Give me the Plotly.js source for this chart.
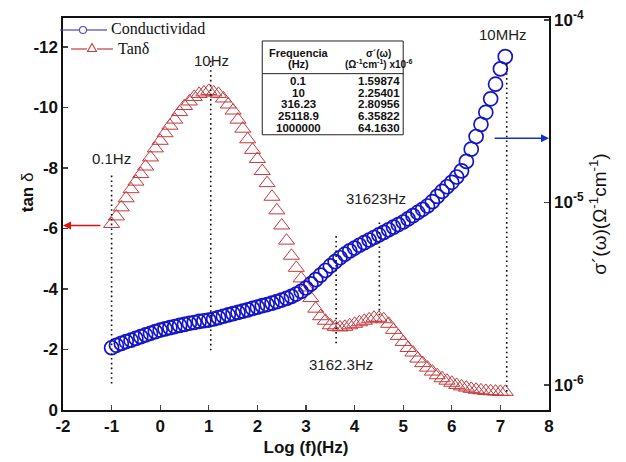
<!DOCTYPE html>
<html>
<head>
<meta charset="utf-8">
<script src="https://cdn.plot.ly/plotly-3.0.1.min.js"></script>
<style>html,body{margin:0;padding:0;background:#fff;}#chart{width:626px;height:462px;}</style>
</head>
<body>
<div id="chart"></div>
<script>
// log10 of frequency (Hz)
const logF = [-1.0,-0.9,-0.8,-0.7,-0.6,-0.5,-0.4,-0.3,-0.2,-0.1,
  0.0,0.1,0.2,0.3,0.4,0.5,0.6,0.7,0.8,0.9,
  1.0,1.1,1.2,1.3,1.4,1.5,1.6,1.7,1.8,1.9,
  2.0,2.1,2.2,2.3,2.4,2.5,2.6,2.7,2.8,2.9,
  3.0,3.1,3.2,3.3,3.4,3.5,3.6,3.7,3.8,3.9,
  4.0,4.1,4.2,4.3,4.4,4.5,4.6,4.7,4.8,4.9,
  5.0,5.1,5.2,5.3,5.4,5.5,5.6,5.7,5.8,5.9,
  6.0,6.1,6.2,6.3,6.4,6.5,6.6,6.7,6.8,6.9,
  7.0,7.1];

// Conductividad sigma'(w) (ohm^-1 cm^-1)
const conductividad = [1.60e-6,1.65e-6,1.69e-6,1.73e-6,1.76e-6,1.80e-6,1.84e-6,1.88e-6,1.92e-6,1.96e-6,
  2.00e-6,2.03e-6,2.06e-6,2.09e-6,2.12e-6,2.15e-6,2.18e-6,2.20e-6,2.23e-6,2.25e-6,
  2.27e-6,2.30e-6,2.34e-6,2.38e-6,2.42e-6,2.46e-6,2.50e-6,2.54e-6,2.58e-6,2.63e-6,
  2.67e-6,2.72e-6,2.76e-6,2.81e-6,2.86e-6,2.92e-6,2.98e-6,3.06e-6,3.15e-6,3.26e-6,
  3.40e-6,3.58e-6,3.78e-6,4.00e-6,4.24e-6,4.49e-6,4.74e-6,4.98e-6,5.21e-6,5.43e-6,
  5.63e-6,5.83e-6,6.03e-6,6.23e-6,6.43e-6,6.64e-6,6.86e-6,7.09e-6,7.33e-6,7.57e-6,
  7.82e-6,8.13e-6,8.47e-6,8.82e-6,9.18e-6,9.57e-6,1.01e-5,1.08e-5,1.15e-5,1.22e-5,
  1.29e-5,1.38e-5,1.49e-5,1.68e-5,1.96e-5,2.30e-5,2.68e-5,3.12e-5,3.70e-5,4.45e-5,
  5.40e-5,6.30e-5];

// tan delta
const tanDelta = [-6.15,-6.4,-6.7,-7.0,-7.3,-7.55,-7.8,-8.05,-8.35,-8.65,
  -8.9,-9.15,-9.4,-9.6,-9.85,-10.05,-10.2,-10.35,-10.45,-10.5,
  -10.55,-10.5,-10.45,-10.3,-10.1,-9.9,-9.6,-9.3,-8.95,-8.6,
  -8.3,-7.9,-7.5,-7.05,-6.6,-6.1,-5.6,-5.1,-4.7,-4.35,
  -4.05,-3.7,-3.35,-3.1,-2.95,-2.8,-2.75,-2.73,-2.75,-2.8,
  -2.85,-2.9,-2.95,-3.0,-3.05,-3.05,-3.0,-2.85,-2.65,-2.45,
  -2.25,-2.05,-1.9,-1.7,-1.55,-1.4,-1.27,-1.15,-1.05,-0.97,
  -0.9,-0.83,-0.78,-0.74,-0.7,-0.67,-0.65,-0.63,-0.62,-0.61,
  -0.6,-0.6];

// axis ticks
const xTicks = [-2,-1,0,1,2,3,4,5,6,7,8];
const yTicks = [0,-2,-4,-6,-8,-10,-12];
const y2Ticks = [1e-6, 1e-5, 1e-4];
const y2TickText = ['10<sup>-6</sup>', '10<sup>-5</sup>', '10<sup>-4</sup>'];

// marked frequencies (log10 f) and labels
const markLogF   = [-1.0, 1.04, 3.62, 4.51, 7.13];
const markTop    = [-7.75, -11.55, -5.75, -6.2, -11.45];
const markBottom = [-0.85, -1.9, -2.15, -3.1, -0.6];
const markLabels = ['0.1Hz', '10Hz', '3162.3Hz', '31623Hz', '10MHz'];
const labelX     = [-1.0, 1.05, 3.72, 4.45, 7.05];
const labelY     = [-8.3, -11.55, -1.5, -7.0, -12.42];

// legend entries
const legendNames = ['Conductividad', 'Tanδ'];

// table
const tableHeadFreq  = ['Frequencia', '(Hz)'];
const tableHeadSigma = ['σ´(ω)', '(Ω<sup>-1</sup>cm<sup>-1</sup>) x10<sup>-6</sup>'];
const tableFreq  = ['0.1', '10', '316.23', '25118.9', '1000000'];
const tableSigma = ['1.59874', '2.25401', '2.80956', '6.35822', '64.1630'];

const blue = '#1414c8';
const red = '#c23a3e';
const legBlue = '#4a4ac0';
const sans = 'Liberation Sans, Arial, sans-serif';
const serif = 'Liberation Serif, Times New Roman, serif';
const bold = s => '<b>' + s + '</b>';

const traces = [
  {x: logF, y: tanDelta, type: 'scatter', mode: 'markers', yaxis: 'y', name: legendNames[1], showlegend: false,
   marker: {symbol: 'triangle-up-open', size: 14, color: red, line: {width: 1, color: red}}},
  {x: logF, y: conductividad, type: 'scatter', mode: 'markers', yaxis: 'y2', name: legendNames[0], showlegend: false,
   marker: {symbol: 'circle-open', size: 14, color: blue, line: {width: 1.7, color: blue}}}
];

// plot-area geometry used for the hand-drawn legend (pixels -> paper)
const PL = 63, PW = 486, PB = 410, PH = 392;
const px = v => (v - PL) / PW;
const py = v => (PB - v) / PH;

const shapes = [];
const annotations = [];
for (let i = 0; i < markLogF.length; i++) {
  shapes.push({type: 'line', xref: 'x', yref: 'y', x0: markLogF[i], x1: markLogF[i], y0: markTop[i], y1: markBottom[i],
    line: {color: '#111', width: 1.6, dash: '1.6px,3.2px'}});
  annotations.push({xref: 'x', yref: 'y', x: labelX[i], y: labelY[i], text: markLabels[i], showarrow: false,
    font: {family: sans, size: 15, color: '#222'}});
}

// legend (drawn by hand to keep the compact spacing of the original)
shapes.push({type: 'line', xref: 'paper', yref: 'paper', x0: px(60), x1: px(79), y0: py(30), y1: py(30), line: {color: legBlue, width: 1.2}});
shapes.push({type: 'line', xref: 'paper', yref: 'paper', x0: px(87), x1: px(107), y0: py(30), y1: py(30), line: {color: legBlue, width: 1.2}});
shapes.push({type: 'circle', xref: 'paper', yref: 'paper', x0: px(79.5), x1: px(86.5), y0: py(26.5), y1: py(33.5), line: {color: legBlue, width: 1.1}});
shapes.push({type: 'line', xref: 'paper', yref: 'paper', x0: px(71), x1: px(87), y0: py(49), y1: py(49), line: {color: red, width: 1.2}});
shapes.push({type: 'line', xref: 'paper', yref: 'paper', x0: px(97), x1: px(113), y0: py(49), y1: py(49), line: {color: red, width: 1.2}});
shapes.push({type: 'path', xref: 'paper', yref: 'paper',
  path: 'M' + px(87.5) + ',' + py(51.5) + ' L' + px(96.5) + ',' + py(51.5) + ' L' + px(92) + ',' + py(43.5) + ' Z',
  line: {color: red, width: 1.1}});
annotations.push({xref: 'paper', yref: 'paper', x: px(109), y: py(29), xanchor: 'left', yanchor: 'middle',
  text: legendNames[0], showarrow: false, font: {family: serif, size: 16, color: '#111'}});
annotations.push({xref: 'paper', yref: 'paper', x: px(116), y: py(48), xanchor: 'left', yanchor: 'middle',
  text: legendNames[1], showarrow: false, font: {family: serif, size: 16, color: '#111'}});

// table frame
shapes.push({type: 'rect', xref: 'x', yref: 'y', x0: 2.1, x1: 5.0, y0: -12.2, y1: -9.1, line: {color: '#222', width: 1}});
shapes.push({type: 'line', xref: 'x', yref: 'y', x0: 2.1, x1: 5.0, y0: -11.12, y1: -11.12, line: {color: '#222', width: 1}});
const headY = [-11.8, -11.43];
const rowY = [-10.87, -10.49, -10.11, -9.72, -9.33];
for (let i = 0; i < 2; i++) {
  annotations.push({xref: 'x', yref: 'y', x: 2.85, y: headY[i], text: bold(tableHeadFreq[i]), showarrow: false,
    font: {family: sans, size: 11, color: '#111'}});
  annotations.push({xref: 'x', yref: 'y', x: 4.5, y: headY[i], text: bold(tableHeadSigma[i]), showarrow: false,
    font: {family: sans, size: 10, color: '#111'}});
}
for (let i = 0; i < tableFreq.length; i++) {
  annotations.push({xref: 'x', yref: 'y', x: 2.85, y: rowY[i], text: bold(tableFreq[i]), showarrow: false,
    font: {family: sans, size: 11.5, color: '#111'}});
  annotations.push({xref: 'x', yref: 'y', x: 4.5, y: rowY[i], text: bold(tableSigma[i]), showarrow: false,
    font: {family: sans, size: 11.5, color: '#111'}});
}
// left axis title placed as in the reference
annotations.push({xref: 'paper', yref: 'y', x: -0.074, y: -7.2, xanchor: 'center', yanchor: 'middle',
  text: '<b>tan</b> δ', textangle: -90, showarrow: false, font: {family: sans, size: 17, color: '#111'}});
// axis arrows
annotations.push({xref: 'x', yref: 'y', axref: 'x', ayref: 'y', x: -2, y: -6.1, ax: -1.2, ay: -6.1,
  showarrow: true, arrowhead: 2, arrowsize: 1, arrowwidth: 1.6, arrowcolor: '#e01010', text: ''});
annotations.push({xref: 'x', yref: 'y2', axref: 'x', ayref: 'y2', x: 8, y: Math.log10(2.25e-5), ax: 6.85, ay: Math.log10(2.25e-5),
  showarrow: true, arrowhead: 2, arrowsize: 1, arrowwidth: 1.6, arrowcolor: '#1030d0', text: ''});

const axisCommon = {showgrid: false, zeroline: false, ticks: 'inside', ticklen: 5, tickwidth: 1.3,
  linecolor: '#111', linewidth: 1.6, showline: true,
  tickfont: {family: sans, size: 17, weight: 'bold', color: '#111'}};

const layout = {
  width: 626, height: 462,
  margin: {l: 63, r: 77, t: 18, b: 52, pad: 0},
  paper_bgcolor: '#fff', plot_bgcolor: '#fff',
  font: {family: sans, color: '#111'},
  showlegend: false,
  xaxis: Object.assign({}, axisCommon, {range: [-2, 8], mirror: true,
    tickvals: xTicks, ticktext: xTicks.map(v => bold(String(v))),
    title: {text: '<b>Log (f)(Hz)</b>', font: {family: sans, size: 17, color: '#111'}, standoff: 6}}),
  yaxis: Object.assign({}, axisCommon, {range: [0, -12.96],
    tickvals: yTicks, ticktext: yTicks.map(v => bold(String(v)))}),
  yaxis2: Object.assign({}, axisCommon, {type: 'log', overlaying: 'y', side: 'right', range: [-6.137, -3.989],
    tickvals: y2Ticks, ticktext: y2TickText.map(bold),
    title: {text: 'σ´(ω)(Ω<sup>-1</sup>cm<sup>-1</sup>)', font: {family: sans, size: 19, color: '#111'}, standoff: 10}}),
  shapes: shapes,
  annotations: annotations
};

Plotly.newPlot('chart', traces, layout, {displayModeBar: false, staticPlot: true});
</script>
</body>
</html>
